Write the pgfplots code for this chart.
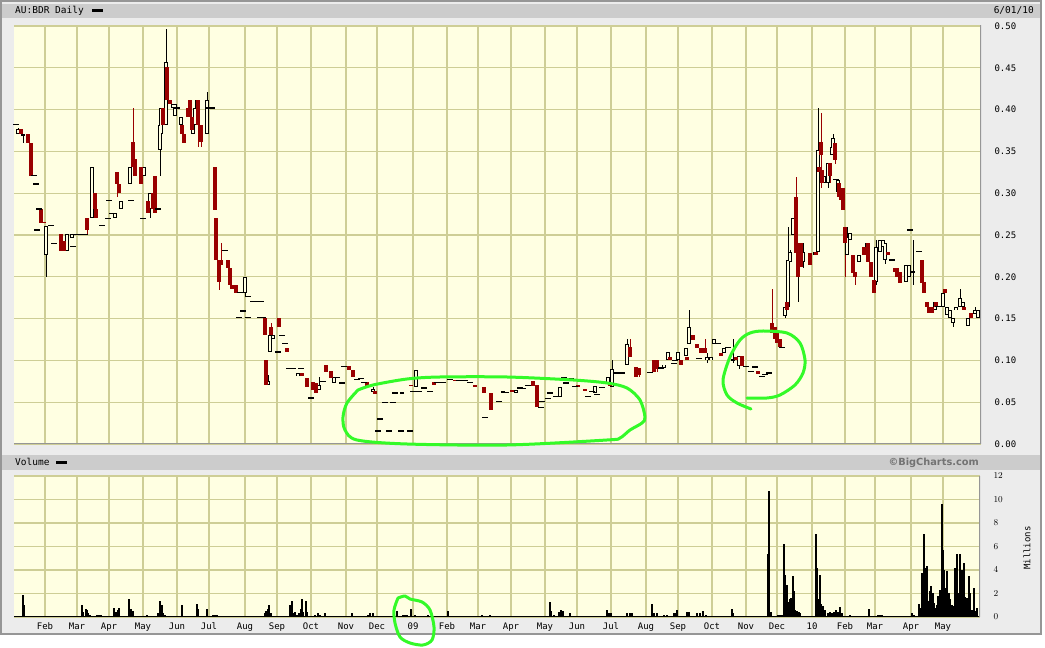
\documentclass[border=0pt]{standalone}
\usepackage{pgfplots}
\pgfplotsset{compat=1.18}
\usepackage{pgfplotstable}
\usepackage{fontspec}
\setmainfont{DejaVu Sans}
\setmonofont{DejaVu Sans Mono}

\definecolor{panel}{RGB}{255,255,226}
\definecolor{gridc}{RGB}{206,206,150}
\definecolor{outer}{RGB}{236,236,236}
\definecolor{barc}{RGB}{204,204,204}
\definecolor{framec}{RGB}{150,150,150}
\definecolor{downc}{RGB}{153,0,0}
\definecolor{hand}{RGB}{51,250,40}

% candles: x = chart column, o h l c in AUD
\pgfplotstableread{
x o h l c
18 0.371 0.378 0.371 0.377
23 0.369 0.371 0.360 0.371
46 0.226 0.261 0.200 0.261
67 0.231 0.251 0.231 0.251
72 0.246 0.251 0.246 0.251
92 0.270 0.331 0.270 0.331
115 0.270 0.276 0.270 0.276
121 0.281 0.291 0.281 0.291
130 0.311 0.331 0.311 0.331
144 0.321 0.331 0.321 0.331
150 0.281 0.300 0.270 0.300
160 0.352 0.382 0.321 0.382
161 0.371 0.402 0.371 0.402
166 0.382 0.496 0.382 0.457
173 0.402 0.407 0.402 0.407
175 0.392 0.407 0.392 0.407
181 0.382 0.391 0.382 0.391
193 0.371 0.391 0.371 0.391
195 0.382 0.411 0.382 0.402
207 0.371 0.421 0.371 0.411
245 0.181 0.200 0.176 0.200
268 0.071 0.082 0.071 0.075
270 0.110 0.130 0.110 0.130
273 0.126 0.130 0.126 0.130
298 0.081 0.085 0.081 0.085
319 0.065 0.080 0.065 0.070
334 0.073 0.080 0.073 0.080
373 0.062 0.068 0.062 0.066
402 0.060 0.062 0.060 0.062
416 0.068 0.089 0.068 0.089
503 0.061 0.063 0.061 0.063
516 0.061 0.065 0.061 0.065
560 0.056 0.068 0.056 0.068
595 0.061 0.069 0.061 0.069
608 0.073 0.080 0.073 0.080
612 0.068 0.100 0.068 0.090
627 0.095 0.126 0.095 0.120
664 0.091 0.095 0.091 0.095
668 0.100 0.110 0.100 0.110
678 0.100 0.110 0.100 0.110
686 0.105 0.115 0.105 0.115
689 0.120 0.160 0.120 0.140
707 0.100 0.109 0.097 0.104
711 0.100 0.104 0.100 0.104
714 0.120 0.126 0.120 0.126
724 0.109 0.115 0.109 0.115
733 0.100 0.126 0.097 0.101
739 0.093 0.105 0.090 0.105
785 0.153 0.166 0.151 0.164
788 0.164 0.260 0.164 0.220
790 0.218 0.232 0.218 0.230
793 0.250 0.270 0.250 0.270
798 0.202 0.216 0.170 0.215
803 0.218 0.240 0.210 0.230
815 0.226 0.230 0.226 0.230
818 0.230 0.402 0.230 0.352
824 0.312 0.321 0.312 0.321
828 0.312 0.336 0.306 0.336
832 0.346 0.355 0.346 0.355
833 0.346 0.371 0.346 0.366
838 0.301 0.316 0.301 0.316
847 0.226 0.260 0.226 0.248
850 0.244 0.252 0.244 0.252
859 0.218 0.226 0.218 0.226
865 0.226 0.240 0.226 0.236
876 0.194 0.244 0.190 0.236
880 0.230 0.244 0.230 0.244
883 0.236 0.244 0.236 0.244
885 0.220 0.240 0.215 0.240
906 0.194 0.214 0.194 0.214
909 0.200 0.214 0.200 0.214
913 0.205 0.244 0.190 0.206
935 0.160 0.170 0.160 0.170
943 0.164 0.185 0.164 0.181
947 0.154 0.164 0.154 0.164
950 0.151 0.160 0.151 0.160
953 0.145 0.151 0.140 0.151
956 0.160 0.164 0.160 0.164
960 0.164 0.185 0.164 0.175
963 0.164 0.170 0.164 0.170
968 0.141 0.151 0.141 0.151
975 0.155 0.164 0.155 0.160
978 0.151 0.160 0.151 0.160
}\upcandles

\pgfplotstableread{
x o h l c
21 0.377 0.377 0.371 0.371
28 0.371 0.371 0.360 0.360
31 0.360 0.360 0.321 0.321
41 0.281 0.281 0.264 0.264
44 0.266 0.266 0.264 0.264
61 0.251 0.251 0.231 0.231
64 0.243 0.243 0.231 0.231
87 0.270 0.270 0.251 0.256
95 0.300 0.300 0.281 0.281
96 0.281 0.281 0.270 0.270
117 0.325 0.325 0.295 0.311
119 0.311 0.311 0.300 0.300
133 0.361 0.402 0.331 0.331
135 0.341 0.341 0.321 0.321
141 0.331 0.331 0.311 0.311
148 0.291 0.291 0.276 0.276
153 0.300 0.300 0.281 0.281
155 0.321 0.321 0.276 0.276
163 0.402 0.402 0.382 0.382
167 0.451 0.451 0.411 0.411
170 0.411 0.411 0.407 0.407
182 0.382 0.382 0.371 0.371
184 0.371 0.371 0.360 0.360
188 0.402 0.402 0.391 0.391
190 0.411 0.411 0.391 0.391
192 0.391 0.391 0.376 0.376
198 0.411 0.411 0.355 0.382
201 0.382 0.382 0.355 0.361
215 0.331 0.331 0.280 0.280
216 0.270 0.270 0.220 0.220
219 0.220 0.220 0.184 0.194
221 0.220 0.240 0.214 0.214
228 0.220 0.220 0.211 0.211
230 0.211 0.211 0.190 0.190
232 0.190 0.190 0.185 0.185
236 0.190 0.190 0.181 0.181
265 0.151 0.151 0.130 0.130
266 0.100 0.100 0.071 0.071
271 0.140 0.145 0.130 0.130
279 0.151 0.151 0.140 0.140
287 0.115 0.115 0.110 0.110
302 0.085 0.085 0.081 0.081
307 0.079 0.079 0.068 0.068
313 0.074 0.074 0.065 0.065
316 0.073 0.073 0.061 0.061
326 0.095 0.095 0.086 0.086
331 0.087 0.087 0.079 0.079
349 0.093 0.093 0.089 0.089
353 0.089 0.089 0.080 0.080
367 0.074 0.074 0.068 0.068
375 0.063 0.063 0.060 0.060
411 0.071 0.071 0.069 0.069
434 0.074 0.074 0.070 0.070
455 0.077 0.077 0.075 0.075
475 0.070 0.070 0.068 0.068
484 0.068 0.068 0.061 0.061
491 0.061 0.061 0.041 0.041
512 0.065 0.065 0.062 0.062
533 0.075 0.075 0.069 0.069
537 0.070 0.070 0.044 0.044
578 0.070 0.070 0.068 0.068
585 0.066 0.066 0.063 0.063
610 0.073 0.073 0.069 0.069
621 0.086 0.086 0.084 0.084
630 0.116 0.126 0.104 0.104
636 0.092 0.092 0.080 0.080
639 0.091 0.091 0.080 0.083
654 0.100 0.100 0.086 0.086
657 0.100 0.100 0.086 0.090
670 0.104 0.104 0.100 0.100
681 0.100 0.100 0.095 0.095
687 0.104 0.104 0.100 0.100
693 0.130 0.130 0.124 0.124
697 0.120 0.120 0.115 0.115
701 0.115 0.115 0.109 0.109
705 0.115 0.126 0.109 0.109
721 0.109 0.109 0.105 0.105
736 0.104 0.104 0.100 0.100
742 0.105 0.105 0.093 0.093
758 0.087 0.087 0.084 0.084
772 0.145 0.185 0.133 0.133
775 0.140 0.140 0.126 0.126
777 0.133 0.133 0.121 0.121
780 0.126 0.126 0.116 0.116
787 0.170 0.170 0.160 0.160
796 0.295 0.319 0.228 0.228
798 0.240 0.240 0.200 0.200
801 0.240 0.240 0.212 0.212
810 0.228 0.228 0.214 0.214
816 0.230 0.230 0.226 0.226
819 0.331 0.331 0.325 0.325
821 0.361 0.396 0.306 0.346
822 0.328 0.328 0.312 0.312
830 0.336 0.336 0.312 0.320
835 0.360 0.360 0.335 0.340
839 0.312 0.312 0.296 0.296
841 0.298 0.298 0.292 0.292
843 0.306 0.306 0.280 0.280
845 0.260 0.260 0.200 0.240
853 0.226 0.226 0.205 0.205
855 0.206 0.206 0.190 0.200
864 0.236 0.236 0.226 0.226
868 0.240 0.240 0.218 0.218
871 0.218 0.218 0.200 0.200
874 0.196 0.196 0.181 0.181
888 0.230 0.230 0.226 0.226
895 0.211 0.211 0.206 0.206
897 0.211 0.211 0.200 0.200
900 0.206 0.206 0.193 0.193
922 0.220 0.220 0.193 0.193
924 0.194 0.194 0.181 0.181
927 0.170 0.170 0.164 0.164
929 0.164 0.164 0.157 0.157
932 0.164 0.164 0.157 0.157
936 0.170 0.170 0.164 0.164
945 0.185 0.185 0.181 0.181
964 0.164 0.164 0.160 0.160
971 0.157 0.157 0.151 0.151
}\downcandles

% days with one price only (drawn as a dash)
\pgfplotstableread{
x p
16 0.382
34 0.321
36 0.311
37 0.256
39 0.281
51 0.261
54 0.240
73 0.236
76 0.251
79 0.251
82 0.251
85 0.251
102 0.261
108 0.270
109 0.291
112 0.276
131 0.291
143 0.270
158 0.281
177 0.402
209 0.402
212 0.402
225 0.231
239 0.151
240 0.181
242 0.181
243 0.159
248 0.176
248 0.151
253 0.170
257 0.170
261 0.170
260 0.151
263 0.151
278 0.110
282 0.130
285 0.120
289 0.090
293 0.090
301 0.090
311 0.055
323 0.075
337 0.080
342 0.073
344 0.093
357 0.077
361 0.078
364 0.074
378 0.0155
380 0.030
385 0.050
389 0.0155
393 0.050
395 0.061
401 0.0155
410 0.0155
413 0.063
419 0.063
424 0.067
430 0.063
437 0.074
443 0.074
450 0.077
459 0.076
465 0.076
470 0.074
485 0.032
499 0.051
506 0.062
520 0.067
523 0.066
528 0.070
541 0.044
542 0.051
548 0.054
550 0.061
556 0.057
564 0.079
566 0.073
571 0.078
575 0.069
588 0.057
592 0.063
597 0.059
602 0.068
617 0.085
622 0.085
650 0.086
661 0.091
674 0.096
675 0.100
699 0.102
718 0.120
728 0.115
746 0.093
751 0.087
755 0.092
762 0.081
765 0.083
769 0.085
782 0.115
836 0.316
892 0.220
910 0.256
919 0.230
938 0.164
}\dashes

% volume, millions
\pgfplotstableread{
x v
23 1.9
24 1.0
82 1.0
83 0.4
86 0.7
87 0.6
88 0.3
90 0.2
97 0.15
99 0.15
101 0.15
114 0.77
116 0.4
118 0.6
119 0.77
129 1.5
131 0.7
133 0.5
147 0.15
158 0.3
160 1.4
162 1.0
163 0.3
165 0.2
182 1.05
197 1.1
198 0.7
207 0.7
213 0.15
215 0.15
217 0.15
265 0.3
266 0.5
268 0.7
269 1.0
271 0.3
290 1.0
292 1.4
293 0.3
295 0.4
297 0.2
299 0.3
301 0.7
302 1.5
303 0.4
306 1.4
307 0.4
315 0.2
318 0.3
320 0.2
325 0.3
330 0.1
352 0.3
360 0.1
368 0.2
370 0.3
373 0.3
397 0.5
403 0.2
405 0.2
407 0.2
411 0.7
415 0.2
428 0.2
448 0.5
482 0.15
490 0.15
550 1.25
551 0.5
554 0.2
559 0.4
561 0.6
563 0.5
570 0.3
584 0.1
607 0.6
609 0.3
611 0.3
627 0.3
630 0.3
632 0.3
640 0.1
652 1.1
654 0.3
657 0.3
664 0.15
667 0.15
674 0.3
676 0.3
677 0.6
687 0.4
689 0.4
697 0.3
700 0.3
703 0.55
706 0.2
722 0.1
732 0.7
733 0.3
738 0.1
768 5.4
769 10.75
771 0.4
778 0.2
780 0.2
782 0.2
784 6.2
785 3.6
787 2.75
788 1.1
789 1.3
790 1.5
791 1.6
793 3.5
794 2.2
795 0.6
797 0.5
799 0.4
800 0.3
816 7.1
817 4.2
818 1.5
820 3.6
821 1.1
823 0.9
825 0.6
828 0.3
830 0.4
832 0.3
834 0.4
836 0.6
838 0.4
840 0.85
842 0.3
850 0.2
869 0.7
878 0.2
880 0.2
882 0.2
897 0.1
912 0.3
914 0.2
919 1.1
921 0.8
922 3.75
924 7.1
925 4.2
926 1.5
927 4.3
928 1.4
930 2.2
931 2.6
933 2.0
934 1.2
935 0.8
937 1.0
938 1.8
940 2.3
942 9.65
943 5.7
944 4.0
946 2.5
947 3.9
949 2.0
950 1.5
952 1.0
953 0.9
955 4.2
957 5.4
958 2.0
960 5.4
961 1.9
962 4.0
964 4.6
965 1.7
967 1.6
969 3.5
970 2.0
972 0.6
974 2.5
975 0.5
977 0.8
}\volume

\pgfplotsset{
  bc/.style={
    scale only axis,
    axis background/.style={fill=panel},
    grid=major,
    major grid style={gridc, line width=1.3pt},
    axis line style={draw=none},
    tick style={draw=none},
    major tick length=0pt,
    xtick={45,77,109,143,177,209,245,277,311,346,377,413,447,478,511,545,577,611,646,678,712,746,777,812,845,875,911,943},
    yticklabel pos=right,
    ticklabel style={font=\fontsize{9}{9}\selectfont\ttfamily},
    yticklabel style={anchor=west, xshift=10pt},
  },
  wick/.style={draw=none, mark=none,
    error bars/.cd, y dir=both, y explicit, error mark=none,
    error bar style={line width=1pt, draw=#1}},
  body/.style 2 args={draw=none, mark=none,
    error bars/.cd, y dir=both, y explicit, error mark=none,
    error bar style={line width=#2, draw=#1}},
}

\begin{document}
\begin{tikzpicture}
\useasboundingbox (0,0) rectangle (1045pt,648pt);
\fill[white] (0,0) rectangle (1045pt,648pt);
\fill[outer] (1pt,14pt) rectangle (1041pt,647pt);
\draw[framec, line width=2pt] (1pt,14pt) rectangle (1041pt,647pt);

% title bars
\fill[barc] (2pt,630pt) rectangle (1040pt,644pt);
\fill[barc] (2pt,178pt) rectangle (1040pt,193pt);
\node[anchor=base west, inner sep=0pt, font=\fontsize{9.5}{9.5}\selectfont\ttfamily] at (15pt,634pt) {AU:BDR Daily};
\fill[black] (92pt,636pt) rectangle (103pt,639pt);
\node[anchor=base east, inner sep=0pt, font=\fontsize{9.5}{9.5}\selectfont\ttfamily] at (1034pt,634pt) {6/01/10};
\node[anchor=base west, inner sep=0pt, font=\fontsize{9.5}{9.5}\selectfont\ttfamily] at (15pt,182pt) {Volume};
\fill[black] (56pt,184pt) rectangle (67pt,187pt);
\node[anchor=base east, inner sep=0pt, text=black!55, font=\fontsize{9.8}{9.8}\selectfont\bfseries] at (979pt,182pt) {©BigCharts.com};
\node[rotate=90, inner sep=0pt, font=\fontsize{9}{9}\selectfont\ttfamily] at (1027pt,100pt) {Millions};

% price panel
\begin{axis}[bc,
  at={(14pt,204pt)}, anchor=south west,
  width=967pt, height=419pt,
  xmin=14, xmax=981, ymin=0, ymax=0.5012,
  xticklabels={},
  ytick={0,0.05,0.1,0.15,0.2,0.25,0.3,0.35,0.4,0.45,0.5},
  yticklabels={0.00,0.05,0.10,0.15,0.20,0.25,0.30,0.35,0.40,0.45,0.50},
]
\addplot[wick=black] table[x=x, y expr={(\thisrow{h}+\thisrow{l})/2}, y error expr={(\thisrow{h}-\thisrow{l})/2}] {\upcandles};
\addplot[wick=downc] table[x=x, y expr={(\thisrow{h}+\thisrow{l})/2}, y error expr={(\thisrow{h}-\thisrow{l})/2}] {\downcandles};
\addplot[body={black}{3.4pt}] table[x=x, y expr={(\thisrow{o}+\thisrow{c})/2}, y error expr={max(abs(\thisrow{c}-\thisrow{o})/2,0.0009)}] {\upcandles};
\addplot[body={panel}{1.4pt}] table[x=x, y expr={(\thisrow{o}+\thisrow{c})/2}, y error expr={max(abs(\thisrow{c}-\thisrow{o})/2-0.0011,0)}] {\upcandles};
\addplot[body={downc}{3.4pt}] table[x=x, y expr={(\thisrow{o}+\thisrow{c})/2}, y error expr={max(abs(\thisrow{c}-\thisrow{o})/2,0.0009)}] {\downcandles};
\addplot[only marks, mark=-, mark size=2.6pt, mark options={line width=1.2pt, black}] table[x=x, y=p] {\dashes};
\draw[framec, line width=1.6pt] (axis cs:14,0) -- (axis cs:981,0) -- (axis cs:981,0.5012);
\end{axis}

% volume panel
\begin{axis}[bc,
  at={(14pt,31pt)}, anchor=south west,
  width=966pt, height=141pt,
  xmin=14, xmax=980, ymin=0, ymax=12,
  xticklabels={Feb,Mar,Apr,May,Jun,Jul,Aug,Sep,Oct,Nov,Dec,09,Feb,Mar,Apr,May,Jun,Jul,Aug,Sep,Oct,Nov,Dec,10,Feb,Mar,Apr,May},
  xticklabel style={anchor=base, yshift=-13pt},
  ytick={0,2,4,6,8,10,12},
]
\addplot[ycomb, black, line width=1.5pt, mark=none] table[x=x, y=v] {\volume};
\draw[black, line width=1.6pt] (axis cs:14,0) -- (axis cs:980,0);
\draw[framec, line width=1.6pt] (axis cs:980,0) -- (axis cs:980,12);
\end{axis}

% hand-drawn marks on the chart
\begin{scope}[hand, line width=3pt, line cap=round, line join=round]
\draw plot[smooth] coordinates {(358pt,258pt) (373pt,263pt) (407pt,269pt) (440pt,271pt) (507pt,271pt) (573pt,268pt) (607pt,265pt) (627pt,260pt) (640pt,248pt) (645pt,231pt) (642pt,225pt) (630pt,218pt) (620pt,210pt) (607pt,208pt) (507pt,203pt) (407pt,204pt) (357pt,208pt) (345pt,218pt) (343pt,231pt) (347pt,245pt) (358pt,258pt)};
\draw plot[smooth] coordinates {(751pt,239pt) (737pt,245pt) (727pt,253pt) (723pt,268pt) (730pt,291pt) (740pt,308pt) (750pt,315pt) (763pt,317pt) (787pt,315pt) (800pt,305pt) (805pt,288pt) (803pt,275pt) (795pt,263pt) (780pt,253pt) (767pt,250pt) (747pt,250pt)};
\draw plot[smooth] coordinates {(398pt,50pt) (405pt,52pt) (410pt,49pt) (422pt,46pt) (430pt,38pt) (434pt,21pt) (432pt,8pt) (423pt,3pt) (410pt,5pt) (400pt,11pt) (395pt,25pt) (394pt,38pt) (398pt,50pt)};
\end{scope}
\end{tikzpicture}
\end{document}
